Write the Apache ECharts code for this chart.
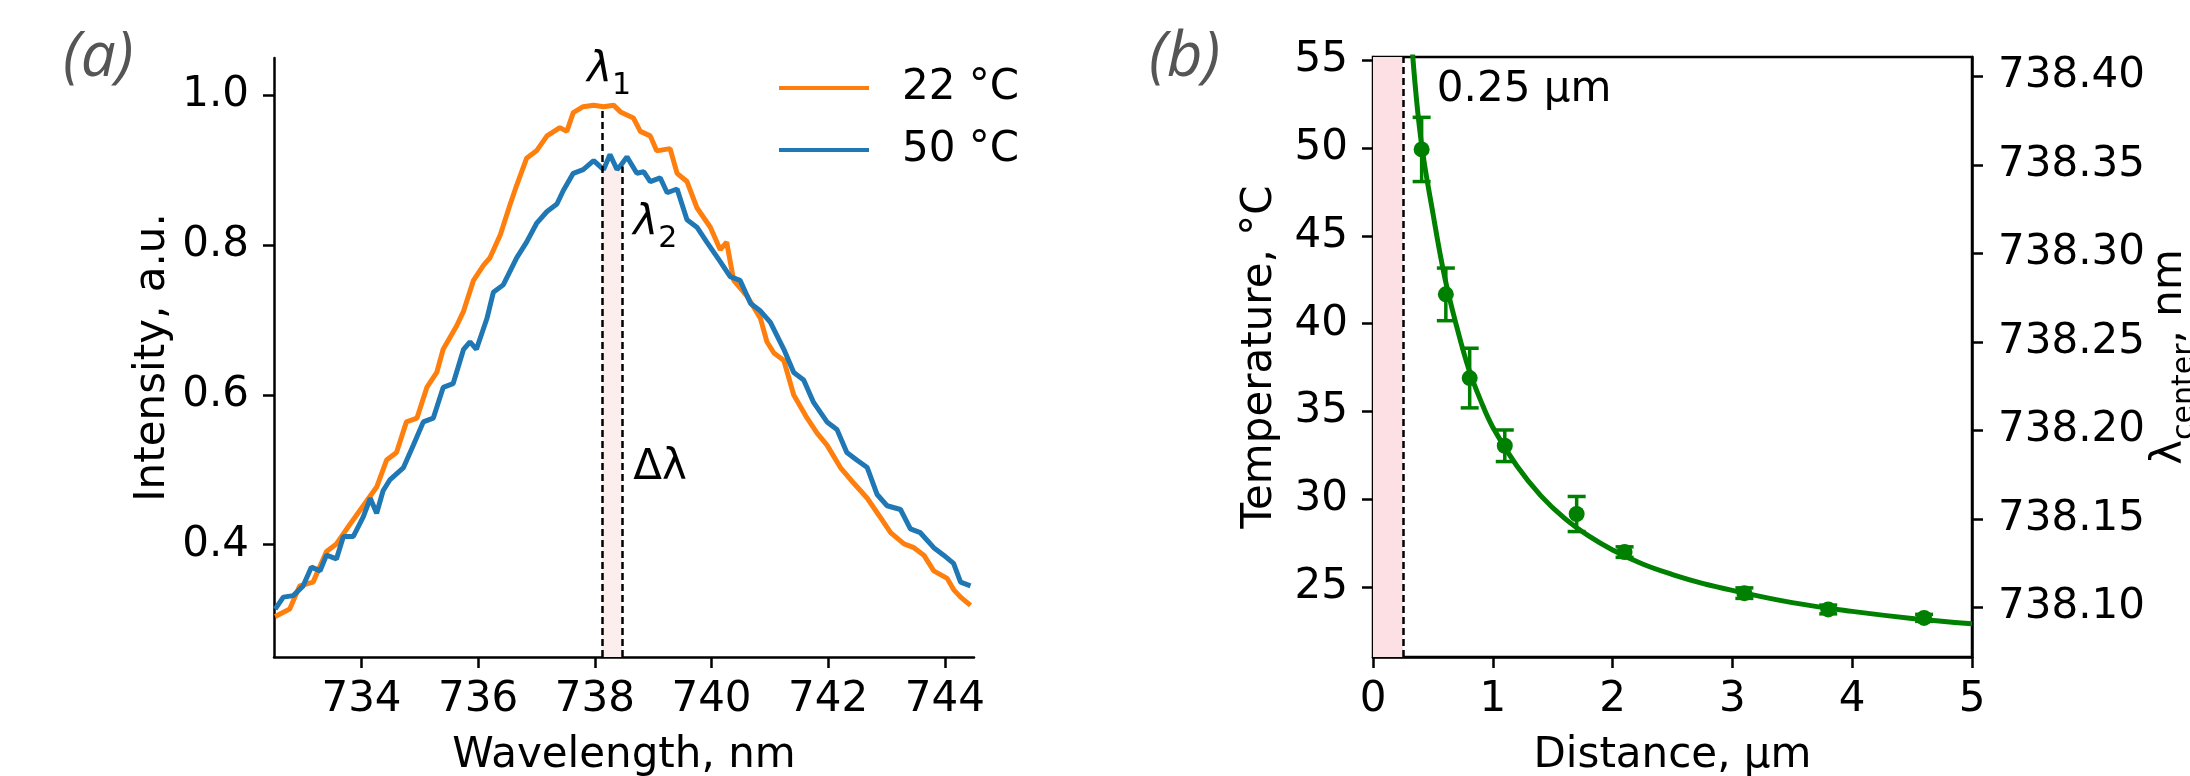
<!DOCTYPE html>
<html>
<head>
<meta charset="utf-8">
<script src="https://cdn.jsdelivr.net/npm/echarts@6/dist/echarts.min.js"></script>
<style>
html, body { margin: 0; padding: 0; background: #fff; }
#main { width: 2190px; height: 776px; }
</style>
</head>
<body>
<div id="main"></div>
<script>
// (a) spectra
var wl22 = [732.52, 732.77, 732.94, 733.17, 733.40, 733.57, 733.80, 734.03, 734.26, 734.43,
    734.60, 734.77, 734.95, 735.12, 735.29, 735.40, 735.63, 735.75, 735.92, 736.09,
    736.20, 736.38, 736.55, 736.66, 736.83, 737.00, 737.18, 737.40, 737.52, 737.63,
    737.80, 737.98, 738.15, 738.32, 738.44, 738.66, 738.78, 738.95, 739.06, 739.29,
    739.41, 739.58, 739.75, 739.98, 740.15, 740.26, 740.38, 740.61, 740.84, 740.95,
    741.07, 741.24, 741.41, 741.64, 741.81, 741.98, 742.21, 742.44, 742.67, 742.89,
    743.07, 743.30, 743.47, 743.64, 743.81, 744.04, 744.15, 744.27, 744.44];
var int22 = [0.304, 0.314, 0.345, 0.350, 0.391, 0.401, 0.427, 0.452, 0.477, 0.513,
    0.523, 0.564, 0.569, 0.610, 0.630, 0.661, 0.692, 0.712, 0.753, 0.773,
    0.783, 0.814, 0.855, 0.880, 0.916, 0.926, 0.946, 0.957, 0.952, 0.977,
    0.985, 0.987, 0.985, 0.987, 0.978, 0.970, 0.952, 0.946, 0.926, 0.929,
    0.896, 0.885, 0.850, 0.824, 0.794, 0.804, 0.753, 0.732, 0.702, 0.671,
    0.656, 0.646, 0.600, 0.569, 0.549, 0.533, 0.503, 0.482, 0.462, 0.437,
    0.416, 0.401, 0.396, 0.386, 0.365, 0.355, 0.340, 0.330, 0.319];
var wl50 = [732.52, 732.66, 732.83, 733.00, 733.14, 733.29, 733.40, 733.57, 733.69, 733.86,
    734.03, 734.15, 734.26, 734.37, 734.49, 734.72, 734.89, 735.06, 735.23, 735.40,
    735.57, 735.75, 735.86, 735.97, 736.15, 736.26, 736.43, 736.66, 736.83, 737.00,
    737.18, 737.35, 737.46, 737.63, 737.80, 737.98, 738.15, 738.26, 738.38, 738.44,
    738.55, 738.72, 738.84, 738.95, 739.12, 739.24, 739.41, 739.58, 739.75, 739.92,
    740.15, 740.32, 740.49, 740.67, 740.84, 741.01, 741.24, 741.41, 741.58, 741.75,
    741.98, 742.15, 742.32, 742.49, 742.67, 742.84, 743.01, 743.24, 743.41, 743.58,
    743.81, 743.98, 744.15, 744.27, 744.44];
var int50 = [0.314, 0.330, 0.332, 0.345, 0.370, 0.365, 0.386, 0.381, 0.411, 0.411,
    0.437, 0.462, 0.442, 0.472, 0.487, 0.503, 0.533, 0.564, 0.569, 0.610,
    0.615, 0.661, 0.671, 0.661, 0.702, 0.737, 0.747, 0.783, 0.804, 0.829,
    0.845, 0.855, 0.873, 0.896, 0.901, 0.913, 0.901, 0.921, 0.901, 0.906,
    0.918, 0.896, 0.898, 0.885, 0.890, 0.870, 0.875, 0.834, 0.824, 0.804,
    0.778, 0.758, 0.753, 0.722, 0.712, 0.697, 0.661, 0.630, 0.620, 0.590,
    0.564, 0.554, 0.523, 0.513, 0.503, 0.467, 0.452, 0.447, 0.421, 0.416,
    0.396, 0.386, 0.375, 0.350, 0.345];
var wlTicks = [734, 736, 738, 740, 742, 744];
var intTicks = [0.4, 0.6, 0.8, 1.0];
var lambda1 = 738.12, lambda1Top = 0.98;
var lambda2 = 738.47, lambda2Top = 0.905;

// (b) temperature vs distance
var dist = [0.406, 0.608, 0.807, 1.10, 1.70, 2.10, 3.10, 3.80, 4.60];
var temp = [49.93, 41.67, 36.90, 33.04, 29.15, 26.98, 24.64, 23.71, 23.23];
var tempErr = [1.83, 1.50, 1.70, 0.90, 1.00, 0.30, 0.30, 0.25, 0.20];
var fitDist = [0.33, 0.40, 0.50, 0.60, 0.70, 0.80, 0.90, 1.00, 1.20, 1.40, 1.60, 1.80,
    2.00, 2.25, 2.50, 2.75, 3.00, 3.50, 4.00, 4.50, 5.00];
var fitTemp = [55.4, 50.5, 46.3, 42.6, 39.8, 37.4, 35.6, 34.1, 31.9, 30.2, 28.9, 27.9,
    27.1, 26.3, 25.7, 25.2, 24.8, 24.1, 23.6, 23.2, 22.9];
var distTicks = [0, 1, 2, 3, 4, 5];
var tempTicks = [25, 30, 35, 40, 45, 50, 55];
var lambdaTicks = [738.10, 738.15, 738.20, 738.25, 738.30, 738.35, 738.40];
var cutoff = 0.25;

// text labels in data coordinates
var annotA = [[737.87, 1.026, 'l1'], [738.66, 0.822, 'l2'], [738.66, 0.502, 'dl']];
var annotB = [[0.533, 53.3, 'cut']];

var font = 'DejaVu Sans';

function pairs(xs, ys) {
    var out = [];
    for (var i = 0; i < xs.length; i++) out.push([xs[i], ys[i]]);
    return out;
}

function axis(extra) {
    var base = {
        axisLine: { show: true, onZero: false, lineStyle: { color: '#000', width: 2.5 } },
        axisTick: { show: true, length: 11, lineStyle: { color: '#000', width: 2.5 } },
        axisLabel: { color: '#000', fontSize: 42, fontFamily: font },
        splitLine: { show: false },
        nameLocation: 'middle',
        nameTextStyle: { color: '#000', fontSize: 42, fontFamily: font }
    };
    for (var k in extra) {
        if (typeof extra[k] === 'object' && base[k] && !Array.isArray(extra[k])) {
            for (var j in extra[k]) base[k][j] = extra[k][j];
        } else {
            base[k] = extra[k];
        }
    }
    return base;
}

var subRich = {
    m: { fontSize: 42, fontFamily: font, fontStyle: 'italic', color: '#000', verticalAlign: 'bottom', padding: [0, 0, 9, 0] },
    u: { fontSize: 42, fontFamily: font, color: '#000', verticalAlign: 'bottom', padding: [0, 0, 9, 0] },
    s: { fontSize: 30, fontFamily: font, color: '#000', verticalAlign: 'bottom' },
    t: { fontSize: 42, fontFamily: font, color: '#000' }
};

var labelText = {
    l1: '{m|λ}{s|1}',
    l2: '{m|λ}{s|2}',
    dl: '{t|Δλ}',
    cut: '{t|0.25 μm}'
};

var annotLabel = {
    show: true, position: 'inside', align: 'left', verticalAlign: 'middle',
    color: '#000', opacity: 1, textBorderWidth: 0, textShadowBlur: 0,
    formatter: function (p) { return labelText[p.data[2]]; },
    rich: subRich
};

var errData = [];
for (var i = 0; i < dist.length; i++) {
    errData.push([dist[i], temp[i] - tempErr[i], temp[i] + tempErr[i]]);
}

var chart = echarts.init(document.getElementById('main'));

var panelTitle = { fontFamily: 'Open Sans', fontStyle: 'italic', fontWeight: 'normal', fontSize: 62, color: '#555' };

var option = {
    animation: false,
    backgroundColor: '#fff',
    title: [
        { text: '(a)', left: 58, top: 22, textStyle: panelTitle },
        { text: '(b)', left: 1144, top: 22, textStyle: panelTitle }
    ],
    legend: {
        data: ['22 °C', '50 °C'],
        orient: 'vertical',
        left: 774,
        top: 62,
        icon: 'rect',
        itemWidth: 90,
        itemHeight: 4,
        itemGap: 20,
        selectedMode: false,
        textStyle: { fontSize: 42, fontFamily: font, color: '#000', lineHeight: 42, padding: [0, 0, 0, 28] }
    },
    grid: [
        { left: 274, top: 58, width: 700, height: 599, containLabel: false, outerBoundsMode: 'none' },
        { left: 1373, top: 57, width: 599, height: 600, containLabel: false, outerBoundsMode: 'none',
          show: true, borderColor: '#000', borderWidth: 2.5, backgroundColor: 'transparent' }
    ],
    xAxis: [
        axis({ type: 'value', gridIndex: 0, min: 732.5, max: 744.5,
            name: 'Wavelength, nm', nameGap: 78,
            axisTick: { customValues: wlTicks },
            axisLabel: { customValues: wlTicks, margin: 22 } }),
        axis({ type: 'value', gridIndex: 1, min: 0, max: 5,
            name: 'Distance, μm', nameGap: 78,
            axisTick: { customValues: distTicks },
            axisLabel: { customValues: distTicks, margin: 22 } })
    ],
    yAxis: [
        axis({ type: 'value', gridIndex: 0, min: 0.25, max: 1.05,
            name: 'Intensity, a.u.', nameGap: 100,
            axisTick: { customValues: intTicks },
            axisLabel: { customValues: intTicks, margin: 25, formatter: function (v) { return v.toFixed(1); } } }),
        axis({ type: 'value', gridIndex: 1, min: 21.0, max: 55.2,
            name: 'Temperature, °C', nameGap: 92,
            axisTick: { customValues: tempTicks },
            axisLabel: { customValues: tempTicks, margin: 25 } }),
        axis({ type: 'value', gridIndex: 1, position: 'right', min: 738.072, max: 738.411,
            name: '{u|λ}{s|center}{u|, nm}', nameGap: 174, nameRotate: 90,
            nameTextStyle: { rich: subRich },
            axisTick: { customValues: lambdaTicks },
            axisLabel: { customValues: lambdaTicks, margin: 26, formatter: function (v) { return v.toFixed(2); } } })
    ],
    series: [
        {
            name: '22 °C', type: 'line', xAxisIndex: 0, yAxisIndex: 0,
            data: pairs(wl22, int22), showSymbol: false, symbol: 'none',
            lineStyle: { color: '#ff7f0e', width: 5 }, itemStyle: { color: '#ff7f0e' },
            markArea: {
                silent: true,
                itemStyle: { color: '#fdeeee' },
                data: [[{ coord: [lambda1, 0.25] }, { coord: [lambda2, lambda2Top] }]]
            },
            markLine: {
                silent: true, symbol: ['none', 'none'], label: { show: false },
                lineStyle: { color: '#000', width: 2.5, type: [7, 4] },
                data: [
                    [{ coord: [lambda1, 0.25] }, { coord: [lambda1, lambda1Top] }],
                    [{ coord: [lambda2, 0.25] }, { coord: [lambda2, lambda2Top] }]
                ]
            }
        },
        {
            name: '50 °C', type: 'line', xAxisIndex: 0, yAxisIndex: 0,
            data: pairs(wl50, int50), showSymbol: false, symbol: 'none',
            lineStyle: { color: '#1f77b4', width: 5 }, itemStyle: { color: '#1f77b4' }
        },
        {
            type: 'scatter', xAxisIndex: 0, yAxisIndex: 0, silent: true,
            data: annotA, symbolSize: 0, itemStyle: { opacity: 1 }, label: annotLabel
        },
        {
            type: 'line', xAxisIndex: 1, yAxisIndex: 1, smooth: 0.4,
            data: pairs(fitDist, fitTemp), showSymbol: false, symbol: 'none',
            lineStyle: { color: '#008000', width: 5 },
            markArea: {
                silent: true,
                itemStyle: { color: '#fde0e3' },
                data: [[{ xAxis: 0 }, { xAxis: cutoff }]]
            },
            markLine: {
                silent: true, symbol: ['none', 'none'], label: { show: false },
                lineStyle: { color: '#000', width: 2.5, type: [7, 4] },
                data: [{ xAxis: cutoff }]
            }
        },
        {
            type: 'custom', xAxisIndex: 1, yAxisIndex: 1, silent: true,
            data: errData,
            encode: { x: 0, y: [1, 2] },
            renderItem: function (params, api) {
                var lo = api.coord([api.value(0), api.value(1)]);
                var hi = api.coord([api.value(0), api.value(2)]);
                var cap = 9;
                var st = { stroke: '#008000', lineWidth: 3.5 };
                return {
                    type: 'group',
                    children: [
                        { type: 'line', shape: { x1: lo[0], y1: lo[1], x2: hi[0], y2: hi[1] }, style: st },
                        { type: 'line', shape: { x1: lo[0] - cap, y1: lo[1], x2: lo[0] + cap, y2: lo[1] }, style: st },
                        { type: 'line', shape: { x1: hi[0] - cap, y1: hi[1], x2: hi[0] + cap, y2: hi[1] }, style: st }
                    ]
                };
            }
        },
        {
            type: 'scatter', xAxisIndex: 1, yAxisIndex: 1,
            data: pairs(dist, temp), symbolSize: 16,
            itemStyle: { color: '#008000', opacity: 1 }
        },
        {
            type: 'scatter', xAxisIndex: 1, yAxisIndex: 1, silent: true,
            data: annotB, symbolSize: 0, itemStyle: { opacity: 1 }, label: annotLabel
        }
    ]
};

option && chart.setOption(option);
</script>
</body>
</html>
